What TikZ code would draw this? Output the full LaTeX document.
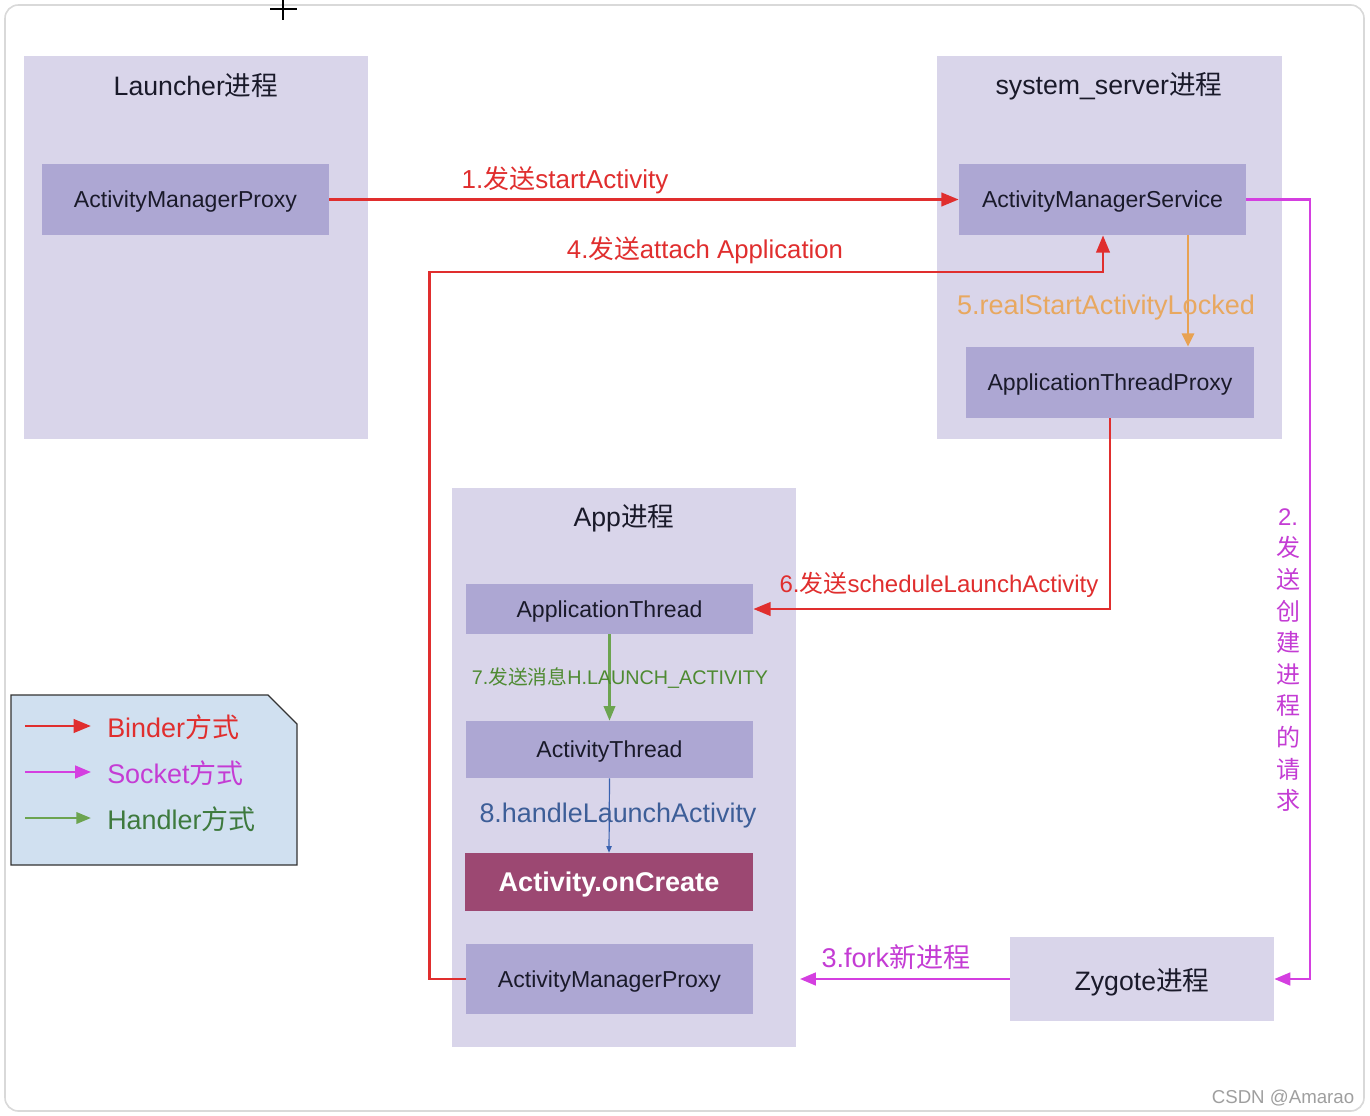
\documentclass[tikz,border=0pt]{standalone}
\usepackage{fontspec}
\setmainfont{Liberation Sans}
\newfontfamily\cjk{Noto Sans CJK SC}
\newcommand\zh[1]{{\cjk #1}}
\usetikzlibrary{arrows.meta,calc}
\definecolor{cont}{HTML}{D9D5EA}
\definecolor{inbox}{HTML}{ADA7D3}
\definecolor{oncr}{HTML}{9C4872}
\definecolor{bred}{HTML}{E02E2E}
\definecolor{smag}{HTML}{D43FE0}
\definecolor{smagt}{HTML}{C43CD4}
\definecolor{hgreen}{HTML}{6CA450}
\definecolor{hgreent}{HTML}{4E8A32}
\definecolor{hgreenl}{HTML}{3E7A3E}
\definecolor{oblue}{HTML}{3A62B0}
\definecolor{obluet}{HTML}{3D5E98}
\definecolor{orng}{HTML}{E8A252}
\definecolor{orngt}{HTML}{E8A860}
\definecolor{legfill}{HTML}{D0E0F0}
\definecolor{txt}{HTML}{1A1A2A}
\tikzset{
  sz/.style 2 args={minimum width=#1*0.75pt, minimum height=#2*0.75pt},
  container/.style={fill=cont, draw=none, inner sep=0pt},
  inner/.style={fill=inbox, draw=none, inner sep=0pt, text depth=0pt, text=txt, font=\fontsize{17.3}{20}\selectfont},
  title/.style={inner sep=0pt, text=txt, font=\fontsize{20}{22}\selectfont},
  steplbl/.style={inner sep=0pt, font=\fontsize{19.5}{22}\selectfont},
  binder/.style={draw=bred, line width=2.2pt, -{Triangle[length=13pt,width=10pt]}},
  socket/.style={draw=smag, line width=2pt, -{Triangle[length=12pt,width=9.5pt]}},
  handler/.style={draw=hgreen, line width=1.9pt, -{Triangle[length=11pt,width=8.5pt]}},
  orangearrow/.style={draw=orng, line width=2.2pt, -{Triangle[length=10pt,width=9pt]}},
  bluearrow/.style={draw=oblue, line width=0.9pt, -{Triangle[length=5pt,width=4pt]}},
  leglbl/.style={inner sep=0pt, anchor=west, font=\fontsize{20.2}{22}\selectfont},
}
\begin{document}
\begin{tikzpicture}[x=0.75pt, y=-0.75pt]
\useasboundingbox (0,0) rectangle (1370,1116);
\fill[white] (0,0) rectangle (1370,1116);
\draw[gray!30, line width=1.2pt, rounded corners=10pt] (5,5) rectangle (1364,1111);
% cursor cross
\draw[black, line width=0.8pt] (283,0) -- (283,20) (270,9) -- (297,9);

% containers
\node[container, sz={344}{383}] (launcher) at (196,247.5) {};
\node[container, sz={345}{383}] (sysserver) at (1109.5,247.5) {};
\node[container, sz={344}{559}] (app) at (624,767.5) {};
\node[title] (launcherT) at (196,86) {Launcher\zh{进程}};
\node[title] (sysT) at (1109,86) {system\_server\zh{进程}};
\node[title] (appT) at (624,518) {App\zh{进程}};

% inner boxes
\node[inner, sz={287}{71}] (amp1) at (185.5,199.5) {ActivityManagerProxy};
\node[inner, sz={287}{71}] (ams) at (1102.5,199.5) {ActivityManagerService};
\node[inner, sz={288}{71}] (atp) at (1110,382.5) {ApplicationThreadProxy};
\node[inner, sz={287}{50}] (apt) at (609.5,609) {ApplicationThread};
\node[inner, sz={287}{57}] (acth) at (609.5,749.5) {ActivityThread};
\node[fill=oncr, inner sep=0pt, text depth=0pt, text=white, font=\bfseries\fontsize{20.3}{22}\selectfont, sz={288}{58}] (onc) at (609,882) {Activity.onCreate};
\node[inner, sz={287}{70}] (amp2) at (609.5,979) {ActivityManagerProxy};
\node[container, text depth=0pt, text=txt, font=\fontsize{20}{24}\selectfont, sz={264}{84}] (zyg) at (1142,979) {Zygote\zh{进程}};

% arrow 1
\draw[binder] (amp1.east) -- (ams.west);
\node[steplbl, text=bred] (l1) at (565,180) {1.\zh{发送}startActivity};
% arrow 4
\coordinate (c4) at (1103,272);
\draw[binder] (amp2.west) -- ++(-36,0) |- (c4) -- (c4 |- ams.south);
\node[steplbl, text=bred, font=\fontsize{19.3}{22}\selectfont] (l4) at (705,250) {4.\zh{发送}attach Application};
% arrow 5
\coordinate (x5) at (1188,0);
\draw[orangearrow] (ams.south -| x5) -- (atp.north -| x5);
\node[steplbl, text=orngt, font=\fontsize{20.3}{22}\selectfont] (l5) at (1106,308) {5.realStartActivityLocked};
% arrow 6
\draw[binder] (atp.south) |- (apt.east);
\node[steplbl, text=bred, font=\fontsize{18}{22}\selectfont] (l6) at (939,585) {6.\zh{发送}scheduleLaunchActivity};
% arrow 2
\coordinate (c2) at (1310,199.5);
\draw[socket] (ams.east) -- (c2) |- (zyg.east);
\node[inner sep=0pt, text=smagt, align=center, font=\fontsize{18}{23.7}\selectfont] (l2) at (1288,660)
  {2.\\\zh{发}\\\zh{送}\\\zh{创}\\\zh{建}\\\zh{进}\\\zh{程}\\\zh{的}\\\zh{请}\\\zh{求}};
% arrow 3
\draw[socket, shorten >=35pt] (zyg.west) -- (amp2.east);
\node[steplbl, text=smagt, font=\fontsize{20.3}{22}\selectfont] (l3) at (896,957) {3.fork\zh{新进程}};
% arrow 7
\draw[handler] (apt.south) -- (acth.north);
\node[inner sep=0pt, text=hgreent, font=\fontsize{14.8}{16}\selectfont] (l7) at (620,678) {7.\zh{发送消息}H.LAUNCH\_ACTIVITY};
% arrow 8
\draw[bluearrow] (acth.south) -- (onc.north);
\node[steplbl, text=obluet, font=\fontsize{20.2}{22}\selectfont] (l8) at (618,816) {8.handleLaunchActivity};

% legend
\draw[draw=black!80, line width=1pt, fill=legfill] (11,695) -- (268,695) -- (297,724) -- (297,865) -- (11,865) -- cycle;
\node[leglbl, text=bred] (lb1) at (107,727) {Binder\zh{方式}};
\node[leglbl, text=smagt] (lb2) at (107,773) {Socket\zh{方式}};
\node[leglbl, text=hgreenl] (lb3) at (107,819) {Handler\zh{方式}};
\coordinate (lg1) at (25,726);
\coordinate (lg2) at (25,772);
\coordinate (lg3) at (25,818);
\draw[binder, shorten >=12pt] (lg1) -- (lb1.west |- lg1);
\draw[socket, shorten >=12pt] (lg2) -- (lb2.west |- lg2);
\draw[handler, shorten >=12pt] (lg3) -- (lb3.west |- lg3);

% watermark
\node[inner sep=0pt, text=gray!75, font=\fontsize{14}{16}\selectfont] (wm) at (1283,1098) {CSDN @Amarao};
\end{tikzpicture}
\end{document}
